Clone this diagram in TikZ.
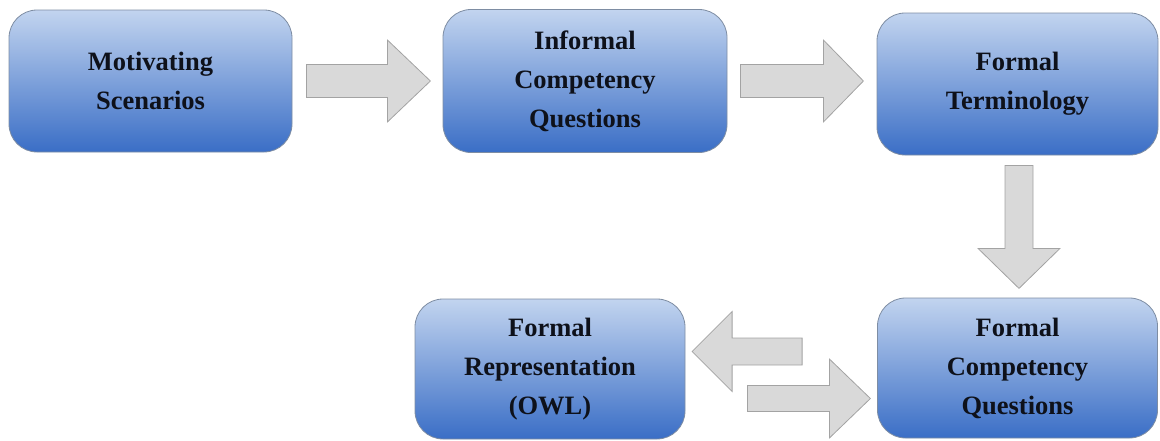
\documentclass[tikz,border=0pt]{standalone}
\usepackage{fontspec}
\setmainfont{Liberation Serif}
\usetikzlibrary{calc}
\definecolor{boxtop}{HTML}{C2D4EF}
\definecolor{boxbot}{HTML}{3A6EC6}
\definecolor{boxline}{HTML}{7E8DA3}
\definecolor{arrfill}{HTML}{D9D9D9}
\definecolor{arrline}{HTML}{A3A3A3}
\definecolor{boxtext}{HTML}{0E111A}

\tikzset{
  stage/.style={draw=boxline, line width=0.8pt, rounded corners=28pt,
    top color=boxtop, bottom color=boxbot, shading angle=0,
    align=center, text=boxtext,
    font=\fontsize{26.5}{39}\selectfont\bfseries},
  blockarrow/.style={fill=arrfill, draw=arrline, line width=0.8pt, line join=miter}
}

% block arrow: #1 tail centre, #2 direction angle, #3 total length,
% #4 head length, #5 shaft half width, #6 head half width
\newcommand{\blkarrow}[6]{%
  \draw[blockarrow, shift={#1}, rotate=#2]
    (0,-#5) -- ({#3-#4},-#5) -- ({#3-#4},-#6) -- (#3,0)
    -- ({#3-#4},#6) -- ({#3-#4},#5) -- (0,#5) -- cycle;}

\begin{document}
\begin{tikzpicture}[x=1pt, y=-1pt]
  \useasboundingbox (0,0) rectangle (1160,440);

  \node[stage, minimum width=283pt, minimum height=142pt] (ms) at (150.5,81)
    {Motivating\\Scenarios};
  \node[stage, minimum width=284pt, minimum height=143pt] (icq) at (585,81)
    {Informal\\Competency\\Questions};
  \node[stage, minimum width=281pt, minimum height=142pt] (ft) at (1017.5,84)
    {Formal\\Terminology};
  \node[stage, minimum width=280pt, minimum height=140pt] (fcq) at (1017.5,368)
    {Formal\\Competency\\Questions};
  \node[stage, minimum width=270pt, minimum height=140pt] (fr) at (550,369)
    {Formal\\Representation\\(OWL)};

  % flow between the stages
  \blkarrow{($(ms.east)+(14,0)$)}{0}{124}{43}{16.5}{41}
  \blkarrow{($(icq.east)+(13,0)$)}{0}{123}{40}{16.5}{41}
  \blkarrow{($(ft.south)+(1.5,10)$)}{-90}{123}{40}{14}{41}
  \blkarrow{($(fcq.west)+(-75,-16.5)$)}{180}{110}{40}{13.5}{40}
  \blkarrow{($(fr.east)+(62,29.5)$)}{0}{123}{41}{13}{39.5}
\end{tikzpicture}
\end{document}
